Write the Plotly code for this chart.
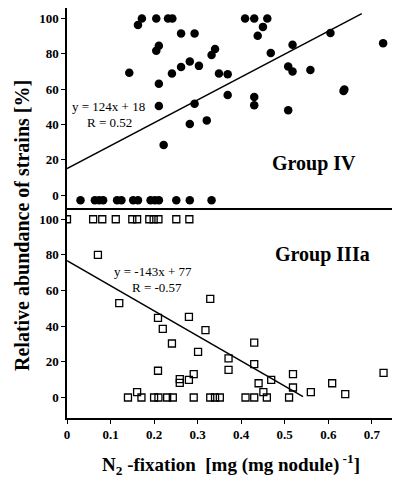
import plotly.graph_objects as go

# Group IV (filled circles), top panel
g4_x = [0.031, 0.064, 0.074, 0.083, 0.115, 0.125, 0.152, 0.163, 0.192, 0.202, 0.211, 0.251, 0.282, 0.332,
        0.163, 0.172, 0.205, 0.232, 0.242, 0.409, 0.430, 0.460, 0.450, 0.438, 0.262, 0.293, 0.605, 0.726,
        0.205, 0.211, 0.340, 0.332, 0.468, 0.518, 0.143, 0.241, 0.262, 0.282, 0.303, 0.349, 0.369, 0.508,
        0.518, 0.559, 0.211, 0.369, 0.430, 0.430, 0.211, 0.293, 0.508, 0.635, 0.637, 0.282, 0.321, 0.222]
g4_y = [-3, -3, -3, -3, -3, -3, -3, -3, -3, -3, -3, -3, -3, -3,
        96.4, 100, 100, 100, 100, 100, 100, 100, 95.3, 90.3, 91.6, 91.6, 91.8, 86,
        81.8, 84.6, 82.8, 79.4, 80.5, 85.2, 69.3, 68.9, 72.5, 75.7, 73.2, 68.9, 68.4, 72.8,
        70, 70.8, 63.1, 56.7, 55.6, 50.9, 50.4, 51.7, 48.1, 59, 59.8, 40.3, 42.3, 28.3]
g4_fit_x = [0.0, 0.677]
g4_fit_y = [15.0, 102.8]

# Group IIIa (open squares), bottom panel
g3_x = [0.0, 0.060, 0.081, 0.112, 0.150, 0.161, 0.189, 0.199, 0.210, 0.251, 0.281,
        0.071, 0.120, 0.329, 0.209, 0.280, 0.220, 0.318, 0.241, 0.430, 0.301, 0.371, 0.371, 0.430,
        0.209, 0.291, 0.259, 0.259, 0.280, 0.519, 0.727, 0.469, 0.440, 0.609, 0.451, 0.161, 0.560,
        0.639, 0.519,
        0.140, 0.171, 0.200, 0.210, 0.230, 0.243, 0.291, 0.329, 0.340, 0.351, 0.410, 0.430, 0.459, 0.510]
g3_y = [100, 100, 100, 100, 100, 100, 100, 100, 100, 100, 100,
        80, 52.9, 55.3, 44.7, 45.2, 38.5, 37.8, 30.3, 30.8, 25.6, 21.9, 15.5, 18.7,
        15.0, 13.1, 10.3, 8.2, 9.9, 13.1, 13.8, 9.9, 8.0, 8.0, 3.0, 3.0, 3.0,
        1.9, 5.6,
        0, 0, 0, 0, 0, 0, 0, 0, 0, 0, 0, 0, 0, 0]
g3_fit_x = [0.0, 0.542]
g3_fit_y = [76.8, 0.5]

x_ticks = [0, 0.1, 0.2, 0.3, 0.4, 0.5, 0.6, 0.7]
x_tick_labels = ["0", "0.1", "0.2", "0.3", "0.4", "0.5", "0.6", "0.7"]
y_ticks = [0, 20, 40, 60, 80, 100]

SERIF = "Liberation Serif, Times New Roman, serif"

fig = go.Figure()
fig.add_trace(go.Scatter(x=g4_x, y=g4_y, mode="markers", xaxis="x2", yaxis="y2",
                         marker=dict(symbol="circle", size=8.5, color="black"), showlegend=False))
fig.add_trace(go.Scatter(x=g4_fit_x, y=g4_fit_y, mode="lines", xaxis="x2", yaxis="y2",
                         line=dict(color="black", width=1.5), showlegend=False))
fig.add_trace(go.Scatter(x=g3_x, y=g3_y, mode="markers", xaxis="x", yaxis="y",
                         marker=dict(symbol="square-open", size=7, color="black",
                                     line=dict(width=1.3, color="black")), showlegend=False))
fig.add_trace(go.Scatter(x=g3_fit_x, y=g3_fit_y, mode="lines", xaxis="x", yaxis="y",
                         line=dict(color="black", width=1.5), showlegend=False))

# The page body has an 8px margin, so the figure occupies window pixels 8..400 / 8..482
OFF = 8
W, H = 400 - OFF, 482 - OFF
L, R, T, B = 67 - OFF, 8, 0, 64
PW, PH = W - L - R, H - T - B


def px_x(wx):
    return (wx - OFF - L) / PW


def px_y(wy):
    return (H - B - (wy - OFF)) / PH


split = px_y(210)
tickfont = dict(family=SERIF, size=13, color="black", weight="bold")
common = dict(showgrid=False, zeroline=False, showline=True, linecolor="black", linewidth=1.5,
              automargin=False)

fig.update_layout(
    width=W, height=H,
    margin=dict(l=L, r=R, t=T, b=B, autoexpand=False),
    paper_bgcolor="white", plot_bgcolor="white",
    xaxis=dict(domain=[0, 1], range=[0, 0.7464], tickvals=x_ticks, ticktext=x_tick_labels,
               ticks="outside", ticklen=4, tickwidth=1.3, tickcolor="black", mirror=True,
               tickfont=tickfont, anchor="y", **common),
    yaxis=dict(domain=[0, split], range=[-11.5, 105.2], tickvals=y_ticks,
               ticks="outside", ticklen=4, tickwidth=1.3, tickcolor="black", mirror=True,
               tickfont=tickfont, anchor="x", **common),
    xaxis2=dict(domain=[0, 1], range=[0, 0.7464], showticklabels=False, ticks="", side="top",
                mirror=False, anchor="y2", matches="x", **common),
    yaxis2=dict(domain=[split, 1], range=[-8.5, 106], tickvals=y_ticks,
                ticks="outside", ticklen=4, tickwidth=1.3, tickcolor="black", mirror=True,
                tickfont=tickfont, anchor="x2", **common),
)

annots = [
    dict(x=0.095, y=50, xref="x2", yref="y2", text="y = 124x + 18", size=13),
    dict(x=0.098, y=41, xref="x2", yref="y2", text="R = 0.52", size=13),
    dict(x=0.567, y=18, xref="x2", yref="y2", text="<b>Group IV</b>", size=20),
    dict(x=0.198, y=70.5, xref="x", yref="y", text="y = -143x + 77", size=13),
    dict(x=0.207, y=61.5, xref="x", yref="y", text="R = -0.57", size=13),
    dict(x=0.586, y=80, xref="x", yref="y", text="<b>Group IIIa</b>", size=20),
]
for a in annots:
    fig.add_annotation(x=a["x"], y=a["y"], xref=a["xref"], yref=a["yref"], text=a["text"],
                       showarrow=False, font=dict(family=SERIF, size=a["size"], color="black"))

fig.add_annotation(x=px_x(22), y=px_y(226), xref="paper", yref="paper",
                   text="<b>Relative abundance of strains [%]</b>", showarrow=False, textangle=-90,
                   xanchor="center", yanchor="middle",
                   font=dict(family=SERIF, size=20, color="black"))
fig.add_annotation(x=px_x(231), y=px_y(464), xref="paper", yref="paper",
                   text="<b>N<sub>2</sub> -fixation&nbsp;&nbsp;[mg (mg nodule)<sup> -1</sup>]</b>",
                   showarrow=False, xanchor="center", yanchor="middle",
                   font=dict(family=SERIF, size=19, color="black"))

fig.write_html("out.html")
